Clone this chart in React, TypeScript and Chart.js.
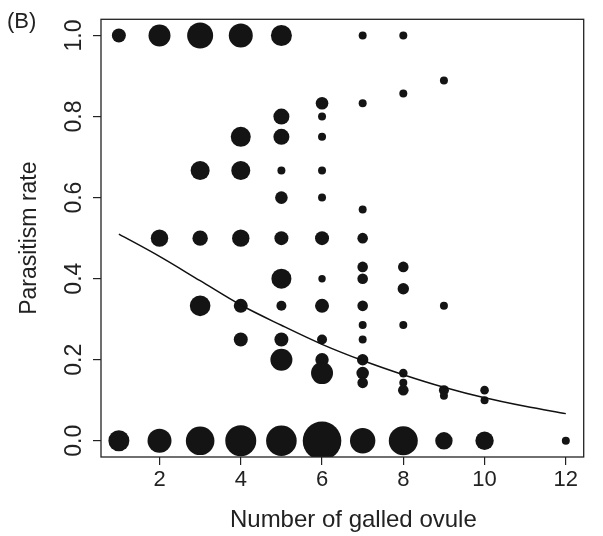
import React, { useEffect, useRef } from "react";
import { Chart, registerables } from "chart.js";

Chart.register(...registerables);

// Bubble data: number of galled ovules (x), parasitism rate (y), bubble radius (px, ~ sample weight)
const galledOvules = [
  1, 1,
  2, 2, 2,
  3, 3, 3, 3, 3,
  4, 4, 4, 4, 4, 4, 4,
  5, 5, 5, 5, 5, 5, 5, 5, 5, 5, 5,
  6, 6, 6, 6, 6, 6, 6, 6, 6, 6, 6, 6,
  7, 7, 7, 7, 7, 7, 7, 7, 7, 7, 7, 7, 7,
  8, 8, 8, 8, 8, 8, 8, 8, 8,
  9, 9, 9, 9, 9,
  10, 10, 10,
  12,
];
const parasitismRate = [
  1.0, 0,
  1.0, 0.5, 0,
  1.0, 0.667, 0.5, 0.333, 0,
  1.0, 0.75, 0.667, 0.5, 0.333, 0.25, 0,
  1.0, 0.8, 0.75, 0.667, 0.6, 0.5, 0.4, 0.333, 0.25, 0.2, 0,
  0.833, 0.8, 0.75, 0.667, 0.6, 0.5, 0.4, 0.333, 0.25, 0.2, 0.167, 0,
  1.0, 0.833, 0.571, 0.5, 0.429, 0.4, 0.333, 0.286, 0.25, 0.2, 0.167, 0.143, 0,
  1.0, 0.857, 0.429, 0.375, 0.286, 0.167, 0.143, 0.125, 0,
  0.889, 0.333, 0.125, 0.111, 0,
  0.125, 0.1, 0,
  0,
];
const bubbleRadius = [
  7, 10.5,
  11, 8.7, 12,
  13, 9.5, 7.7, 10.3, 14.3,
  12, 10, 9.5, 8.7, 7, 7, 15.5,
  10.5, 8, 8, 4, 6.3, 7, 10, 5, 7, 11, 15.3,
  6.3, 4, 4, 4, 4, 7, 3.7, 7, 5, 6.7, 11, 19.3,
  4, 4, 4, 5.3, 5.3, 5.3, 5.3, 4, 4, 5.7, 6.3, 5.3, 12.7,
  4, 4, 5.3, 5.7, 4, 4.3, 4, 5.3, 14.5,
  4, 4, 5, 4, 8.7,
  4.3, 4, 9.2,
  4,
];

// Fitted curve, read at each x
const curveX = [1, 2, 3, 4, 5, 6, 7, 8, 9, 10, 11, 12];
const curveY = [0.51, 0.455, 0.395, 0.335, 0.285, 0.238, 0.198, 0.163, 0.132, 0.106, 0.085, 0.067];

const xTicks = [2, 4, 6, 8, 10, 12];
const yTicks = [0, 0.2, 0.4, 0.6, 0.8, 1.0];

const xTitle = "Number of galled ovule";
const yTitle = "Parasitism rate";
const panelLabel = "(B)";

const FONT = "'Liberation Sans', Arial, Helvetica, sans-serif";

export default function App() {
  const ref = useRef<HTMLCanvasElement | null>(null);

  useEffect(() => {
    const canvas = ref.current;
    if (!canvas) return;

    const boxPlugin = {
      id: "boxAndLabel",
      afterDraw(chart: any) {
        const { ctx, chartArea } = chart;
        ctx.save();
        ctx.strokeStyle = "#222";
        ctx.lineWidth = 1.3;
        ctx.strokeRect(
          chartArea.left,
          chartArea.top,
          chartArea.right - chartArea.left,
          chartArea.bottom - chartArea.top
        );
        ctx.fillStyle = "#222";
        ctx.font = `22px ${FONT}`;
        ctx.textBaseline = "alphabetic";
        ctx.textAlign = "left";
        ctx.fillText(panelLabel, 7, 28);
        // x-axis title (slightly right of plot centre, as in the source figure)
        ctx.font = `24px ${FONT}`;
        ctx.textAlign = "center";
        ctx.fillText(xTitle, (chartArea.left + chartArea.right) / 2 + 11, 527);
        ctx.restore();
      },
    };

    const chart = new Chart(canvas, {
      type: "bubble",
      data: {
        datasets: [
          {
            type: "line",
            data: curveX.map((x, i) => ({ x, y: curveY[i] })),
            borderColor: "#111",
            borderWidth: 1.5,
            pointRadius: 0,
            fill: false,
            cubicInterpolationMode: "monotone",
            order: 0,
          } as any,
          {
            type: "bubble",
            data: galledOvules.map((x, i) => ({ x, y: parasitismRate[i], r: bubbleRadius[i] })),
            backgroundColor: "#141414",
            borderWidth: 0,
            order: 1,
          },
        ],
      },
      plugins: [boxPlugin],
      options: {
        responsive: false,
        animation: false,
        layout: { padding: { top: 10, right: 4, left: 0, bottom: 0 } },
        plugins: {
          legend: { display: false },
          tooltip: { enabled: false },
        },
        scales: {
          x: {
            type: "linear",
            min: 0.56,
            max: 12.44,
            grid: { drawOnChartArea: false, drawTicks: true, tickLength: 8, color: "#222", lineWidth: 1.2 },
            border: { display: false },
            afterBuildTicks: (s: any) => {
              s.ticks = xTicks.map((v) => ({ value: v }));
            },
            afterFit: (s: any) => {
              s.height = 79;
              s.paddingLeft = 0;
              s.paddingRight = 0;
            },
            ticks: {
              color: "#222",
              font: { family: FONT, size: 22 },
              padding: 2,
              maxRotation: 0,
              autoSkip: false,
              callback: (v: any) => String(v),
            },
            title: { display: false },
          },
          y: {
            type: "linear",
            min: -0.04,
            max: 1.04,
            grid: { drawOnChartArea: false, drawTicks: true, tickLength: 8, color: "#222", lineWidth: 1.2 },
            border: { display: false },
            afterBuildTicks: (s: any) => {
              s.ticks = yTicks.map((v) => ({ value: v }));
            },
            afterFit: (s: any) => {
              s.width = 101;
              s.paddingTop = 0;
              s.paddingBottom = 0;
            },
            ticks: {
              color: "#222",
              font: { family: FONT, size: 23 },
              padding: 2,
              minRotation: 90,
              maxRotation: 90,
              crossAlign: "center",
              autoSkip: false,
              callback: (v: any) => Number(v).toFixed(1),
            },
            title: {
              display: true,
              text: yTitle,
              color: "#222",
              font: { family: FONT, size: 23 },
              padding: { top: 16, bottom: 0 },
            },
          },
        },
      } as any,
    });

    return () => chart.destroy();
  }, []);

  return (
    <div style={{ position: "fixed", left: 0, top: 0, width: 603, height: 536, background: "#fff" }}>
      <canvas ref={ref} width={603} height={536} style={{ width: 603, height: 536, display: "block" }} />
    </div>
  );
}
